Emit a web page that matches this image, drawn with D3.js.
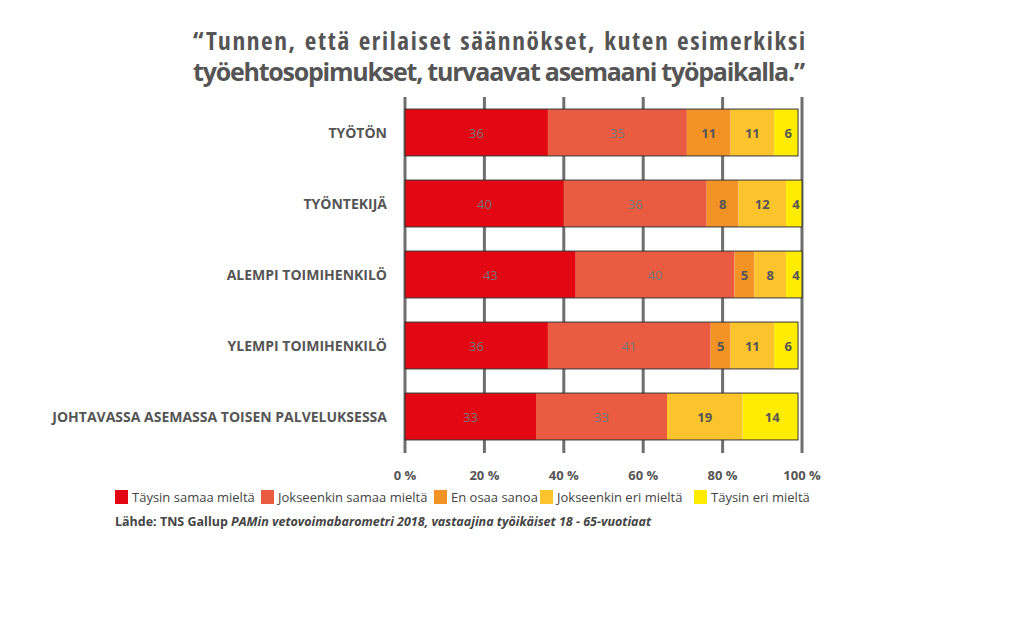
<!DOCTYPE html>
<html><head><meta charset="utf-8">
<script src="https://cdn.jsdelivr.net/npm/d3@7"></script>
<style>body{margin:0;background:#fff;font-family:"Open Sans",sans-serif}</style>
</head><body><svg id="c" width="1024" height="640"></svg>
<script>
var categories = ["TYÖTÖN", "TYÖNTEKIJÄ", "ALEMPI TOIMIHENKILÖ", "YLEMPI TOIMIHENKILÖ", "JOHTAVASSA ASEMASSA TOISEN PALVELUKSESSA"];
var seriesNames = ["Täysin samaa mieltä", "Jokseenkin samaa mieltä", "En osaa sanoa", "Jokseenkin eri mieltä", "Täysin eri mieltä"];
var colors = ["#e30613", "#e95c41", "#f39325", "#fcc42c", "#ffec00"];
var values = [
  [36, 35, 11, 11, 6],
  [40, 36, 8, 12, 4],
  [43, 40, 5, 8, 4],
  [36, 41, 5, 11, 6],
  [33, 33, 0, 19, 14]
];
var ticks = [0, 20, 40, 60, 80, 100];

var svg = d3.select("#c");
var x = d3.scaleLinear().domain([0, 100]).range([405, 802]);
var y = d3.scaleBand().domain(categories).range([97, 452]).paddingInner(0.34).paddingOuter(0.17);

svg.append("text").attr("x", 805).attr("y", 50).attr("text-anchor", "end")
  .attr("font-size", 25).attr("font-weight", "bold").attr("fill", "#555")
  .attr("font-family", "'Open Sans Condensed','Liberation Sans Narrow',Roboto,sans-serif")
  .attr("textLength", 612)
  .text("“Tunnen, että erilaiset säännökset, kuten esimerkiksi");
svg.append("text").attr("x", 805).attr("y", 81).attr("text-anchor", "end")
  .attr("font-size", 25).attr("font-weight", "bold").attr("fill", "#555")
  .attr("textLength", 612)
  .text("työehtosopimukset, turvaavat asemaani työpaikalla.”");

// grid
svg.selectAll(".g").data(ticks).enter().append("line")
  .attr("x1", d => x(d)).attr("x2", d => x(d)).attr("y1", 97).attr("y2", 453)
  .attr("stroke", "#6f6f6f").attr("stroke-width", 3);

values.forEach(function(row, i) {
  var acc = 0;
  var g = svg.append("g");
  row.forEach(function(v, j) {
    var x0 = acc; acc += v;
    if (v === 0) return;
    g.append("rect").attr("x", x(x0)).attr("y", y(categories[i]))
      .attr("width", x(acc) - x(x0)).attr("height", y.bandwidth()).attr("fill", colors[j]);
    g.append("text").attr("x", (x(x0) + x(acc)) / 2 + (j == 4 ? 2 : 0)).attr("y", y(categories[i]) + y.bandwidth() / 2 + 5)
      .attr("text-anchor", "middle").attr("font-size", 13).attr("fill", j < 2 ? "#777" : "#555")
      .attr("font-weight", j < 2 ? "normal" : "bold").text(v);
  });
  g.append("rect").attr("x", x(0)).attr("y", y(categories[i]))
    .attr("width", x(acc) - x(0)).attr("height", y.bandwidth())
    .attr("fill", "none").attr("stroke", "#333").attr("stroke-width", 1);
  svg.append("text").attr("x", 387).attr("y", y(categories[i]) + y.bandwidth() / 2 + 5)
    .attr("text-anchor", "end").attr("font-size", 14).attr("font-weight", "bold").attr("fill", "#555")
    .text(categories[i]);
});

svg.selectAll(".t").data(ticks).enter().append("text")
  .attr("x", d => x(d)).attr("y", 480).attr("text-anchor", "middle")
  .attr("font-size", 13).attr("font-weight", "bold").attr("fill", "#555").text(d => d + " %");

var lx = [115, 261, 434, 540, 694];
seriesNames.forEach(function(s, j) {
  svg.append("rect").attr("x", lx[j]).attr("y", 490).attr("width", 13).attr("height", 14).attr("fill", colors[j]);
  svg.append("text").attr("x", lx[j] + 17).attr("y", 502).attr("font-size", 13).attr("fill", "#444").text(s);
});
var src = svg.append("text").attr("x", 115).attr("y", 526).attr("font-size", 12.5).attr("fill", "#444").attr("font-weight", "bold");
src.append("tspan").text("Lähde: TNS Gallup ");
src.append("tspan").attr("font-style", "italic").text("PAMin vetovoimabarometri 2018, vastaajina työikäiset 18 - 65-vuotiaat");
</script></body></html>
